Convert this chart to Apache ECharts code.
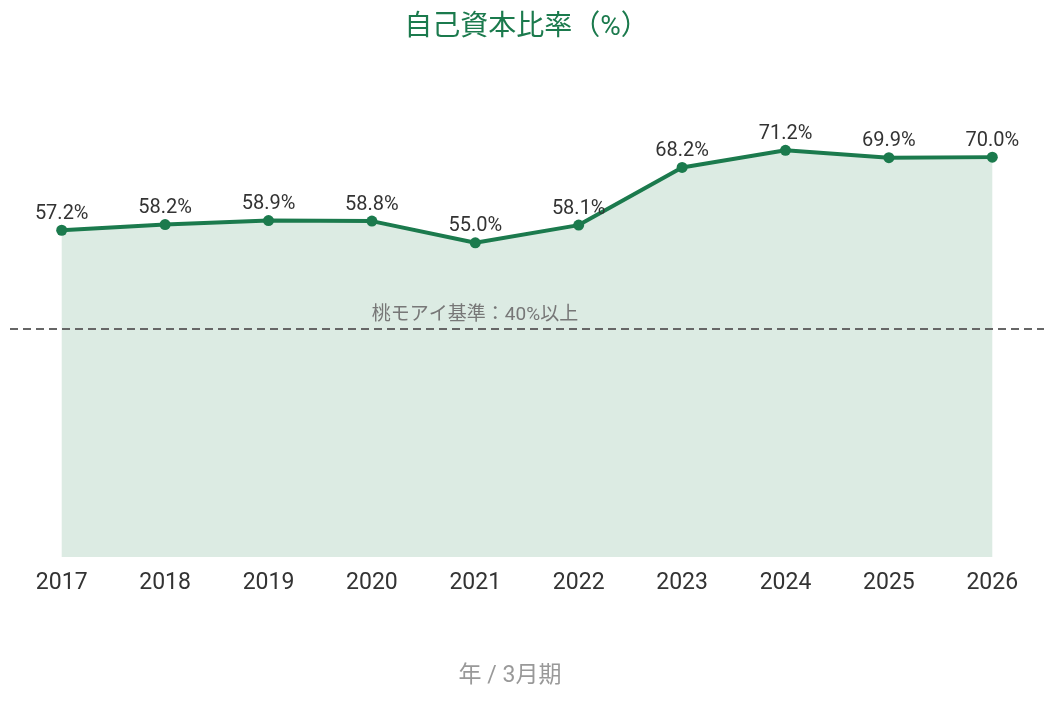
<!DOCTYPE html>
<html><head><meta charset="utf-8">
<script src="https://cdn.jsdelivr.net/npm/echarts@6/dist/echarts.min.js"></script>
<style>html,body{margin:0;padding:0;background:#fff}#c{width:1053px;height:701px}</style>
</head><body><div id="c"></div>
<script>
const years = ['2017','2018','2019','2020','2021','2022','2023','2024','2025','2026'];
const ratios = [57.2, 58.2, 58.9, 58.8, 55.0, 58.1, 68.2, 71.2, 69.9, 70.0];
const benchmark = 40;
const benchmarkLabel = '桃モアイ基準：40%以上';
const titleText = '自己資本比率（%）';
const xName = '年 / 3月期';

const chart = echarts.init(document.getElementById('c'));
chart.setOption({
  animation: false,
  textStyle: {fontFamily: 'Roboto, "Noto Sans CJK JP", sans-serif'},
  title: {text: titleText, left: 'center', top: 9,
    textStyle: {color: '#1b7a4d', fontSize: 28, fontWeight: 'normal'}},
  grid: {left: 10, right: 9, top: 100, bottom: 144},
  xAxis: {type: 'category', data: years, boundaryGap: true,
    axisLine: {show: false}, axisTick: {show: false},
    axisLabel: {color: '#333', fontSize: 23, margin: 15},
    name: xName, nameLocation: 'middle', nameGap: 108,
    nameTextStyle: {color: '#999', fontSize: 23, padding: [0, 34, 0, 0]}},
  yAxis: {type: 'value', min: 0, max: 80, show: false},
  series: [{
    type: 'line', data: ratios,
    symbol: 'circle', symbolSize: 11,
    lineStyle: {color: '#1b7a4d', width: 4},
    itemStyle: {color: '#1b7a4d'},
    areaStyle: {color: '#dcebe3', opacity: 1},
    label: {show: true, position: 'top', distance: 1, color: '#333', fontSize: 20,
      formatter: p => p.value.toFixed(1) + '%'},
    markLine: {
      silent: true, symbol: 'none',
      lineStyle: {color: '#666', type: [8, 5], width: 2},
      label: {show: true, position: 'insideMiddleTop', offset: [-52, 0], distance: 4,
        color: '#777', fontSize: 19, formatter: benchmarkLabel},
      data: [{yAxis: benchmark}]
    }
  }]
});
</script></body></html>
